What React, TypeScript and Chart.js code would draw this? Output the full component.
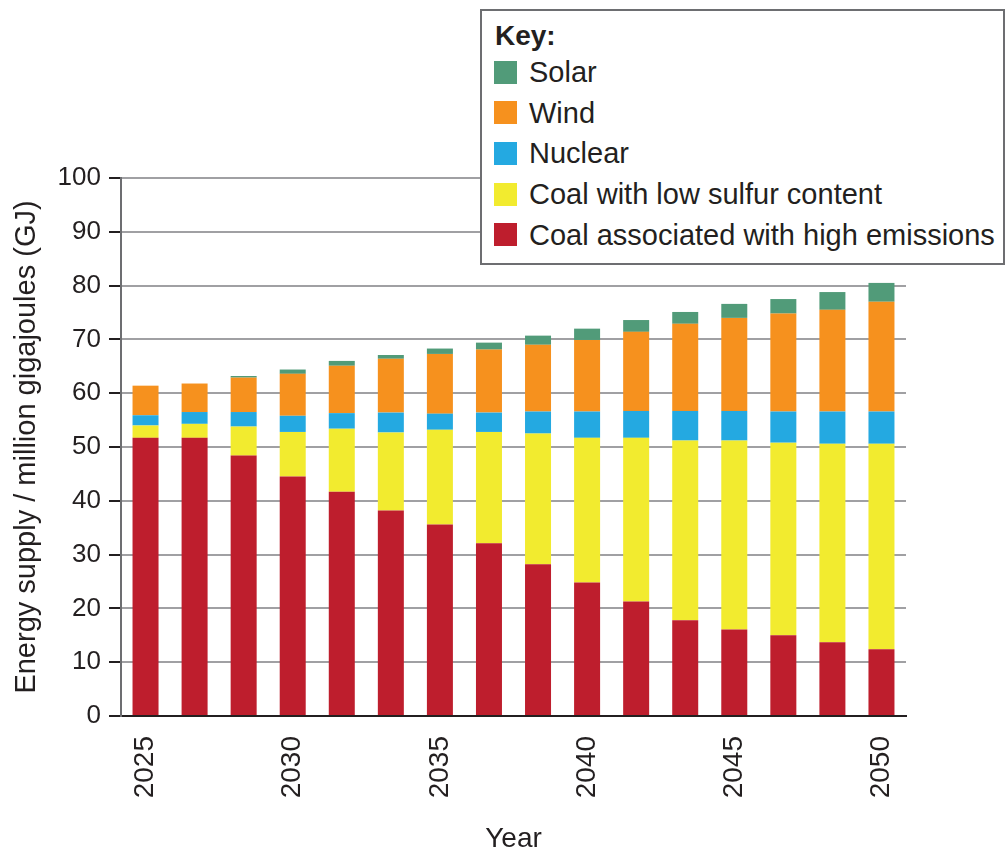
import React, { useEffect, useRef } from "react";
import { Chart, registerables } from "chart.js";

Chart.register(...registerables);

// Category tick labels (16 bars from 2025 to 2050; only every 3rd bar is labelled)
const tickLabels = ["2025", "", "", "2030", "", "", "2035", "", "", "2040", "", "", "2045", "", "", "2050"];

// Series values (million GJ), bottom to top of each stack
const coalHigh = [51.7, 51.7, 48.4, 44.5, 41.7, 38.2, 35.6, 32.1, 28.2, 24.8, 21.3, 17.8, 16.1, 15.0, 13.7, 12.4];
const coalLow = [2.3, 2.6, 5.4, 8.3, 11.7, 14.5, 17.6, 20.7, 24.3, 26.9, 30.4, 33.4, 35.1, 35.8, 36.9, 38.2];
const nuclear = [1.9, 2.2, 2.7, 3.0, 2.9, 3.7, 3.0, 3.6, 4.1, 4.9, 5.0, 5.5, 5.5, 5.8, 6.0, 6.0];
const wind = [5.5, 5.3, 6.4, 7.8, 8.8, 10.0, 11.1, 11.7, 12.4, 13.3, 14.7, 16.2, 17.3, 18.2, 18.9, 20.4];
const solar = [0, 0, 0.3, 0.8, 0.9, 0.7, 1.0, 1.3, 1.7, 2.1, 2.2, 2.2, 2.6, 2.7, 3.3, 3.5];

const seriesNames = [
  "Coal associated with high emissions",
  "Coal with low sulfur content",
  "Nuclear",
  "Wind",
  "Solar",
];
const seriesColors = ["#be1e2d", "#f2eb2f", "#24a9e1", "#f6911e", "#519b79"];
const seriesData = [coalHigh, coalLow, nuclear, wind, solar];

const yTitle = "Energy supply / million gigajoules (GJ)";
const xTitle = "Year";
const legendTitle = "Key:";

const FONT = "'Liberation Sans', Arial, Helvetica, sans-serif";
const TEXT = "#231f20";

export default function App() {
  const canvasRef = useRef<HTMLCanvasElement | null>(null);

  useEffect(() => {
    const canvas = canvasRef.current;
    if (!canvas) return;
    const chart = new Chart(canvas, {
      type: "bar",
      data: {
        labels: tickLabels,
        datasets: seriesData.map((d, i) => ({
          label: seriesNames[i],
          data: d,
          backgroundColor: seriesColors[i],
          borderWidth: 0,
          barPercentage: 0.53,
          categoryPercentage: 1,
        })),
      },
      options: {
        responsive: false,
        animation: false,
        devicePixelRatio: 1,
        layout: { padding: { top: 178, right: 99, left: 0, bottom: 0 } },
        plugins: {
          legend: { display: false },
          tooltip: { enabled: false },
          title: { display: false },
        },
        scales: {
          x: {
            stacked: true,
            grid: { display: false },
            border: { display: true, color: TEXT, width: 2 },
            ticks: {
              autoSkip: false,
              maxRotation: 90,
              minRotation: 90,
              padding: 12,
              color: TEXT,
              font: { family: FONT, size: 28 },
            },
            title: {
              display: true,
              text: xTitle,
              color: TEXT,
              font: { family: FONT, size: 28 },
              padding: { top: 0, bottom: 1 },
            },
            afterFit: (scale: any) => {
              scale.height = 141;
            },
          },
          y: {
            stacked: true,
            min: 0,
            max: 100,
            ticks: {
              stepSize: 10,
              padding: 8,
              color: TEXT,
              font: { family: FONT, size: 26 },
            },
            grid: {
              color: (ctx: any) => (ctx.tick && ctx.tick.value === 0 ? TEXT : "#a0a0a3"),
              lineWidth: 2,
              tickLength: 12,
              tickColor: TEXT,
              tickWidth: 2,
            },
            border: { display: true, color: "#6d6e71", width: 2 },
            title: {
              display: true,
              text: yTitle,
              color: TEXT,
              font: { family: FONT, size: 29 },
              padding: { top: 10, bottom: 0 },
            },
            afterFit: (scale: any) => {
              scale.width = 121;
            },
          },
        },
      },
    });
    return () => chart.destroy();
  }, []);

  const legendOrder = [4, 3, 2, 1, 0];

  return (
    <div style={{ position: "absolute", left: 0, top: 0, width: 1005, height: 857, background: "#fff" }}>
      <canvas ref={canvasRef} width={1005} height={857} style={{ position: "absolute", left: 0, top: 0 }} />
      <div
        style={{
          position: "absolute",
          left: 480,
          top: 9,
          width: 525,
          height: 256,
          border: "2px solid #6d6e71",
          background: "#fff",
          fontFamily: FONT,
          color: TEXT,
          boxSizing: "border-box",
        }}
      >
        <div
          style={{
            position: "absolute",
            left: 13,
            top: 8,
            fontWeight: "bold",
            fontSize: 28,
            lineHeight: "34px",
          }}
        >
          {legendTitle}
        </div>
        {legendOrder.map((idx, row) => (
          <div
            key={idx}
            style={{
              position: "absolute",
              left: 12,
              top: 48 + row * 40.7,
              height: 26,
              display: "flex",
              alignItems: "center",
              whiteSpace: "nowrap",
            }}
          >
            <span
              style={{
                display: "inline-block",
                width: 23,
                height: 23,
                background: seriesColors[idx],
                marginRight: 12,
              }}
            />
            <span style={{ fontSize: 29, lineHeight: "34px" }}>{seriesNames[idx]}</span>
          </div>
        ))}
      </div>
    </div>
  );
}
